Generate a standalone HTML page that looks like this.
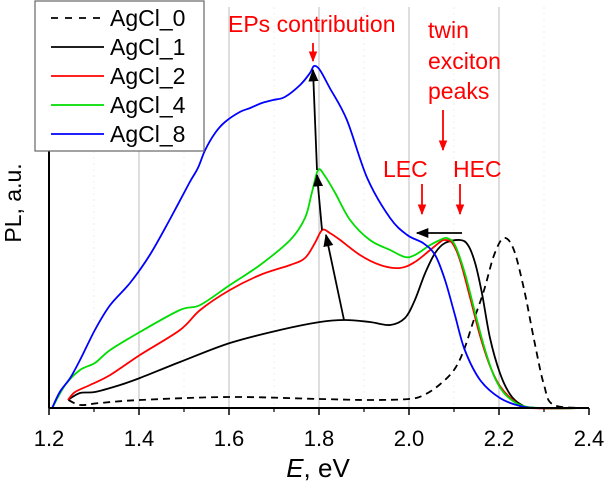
<!DOCTYPE html>
<html><head><meta charset="utf-8"><style>
html,body{margin:0;padding:0;background:#fff;}
svg{display:block;font-family:"Liberation Sans",Arial,sans-serif;}
</style></head><body>
<svg id="chart" width="610" height="496" viewBox="0 0 610 496">
<defs>
<marker id="ahK" viewBox="0 0 10 10" refX="9" refY="5" markerWidth="7" markerHeight="7" orient="auto"><path d="M0,1 L10,5 L0,9 z" fill="#000"/></marker>
<marker id="ahR" viewBox="0 0 10 10" refX="9" refY="5" markerWidth="6" markerHeight="8" orient="auto"><path d="M0,1 L10,5 L0,9 z" fill="#f00"/></marker>
</defs>
<g id="grid"></g>
<g id="series"></g>
<g id="axes"></g>
<g id="annot"></g>
</svg>
<script>
const xTicks=[1.2,1.4,1.6,1.8,2.0,2.2,2.4];
const xTickLabels=["1.2","1.4","1.6","1.8","2.0","2.2","2.4"];
const seriesNames=["AgCl_0","AgCl_1","AgCl_2","AgCl_4","AgCl_8"];
const agcl0E=[1.243,1.27,1.313,1.402,1.6,1.8,1.911,2.0,2.033,2.067,2.1,2.122,2.144,2.167,2.189,2.211,2.233,2.256,2.278,2.3,2.322,2.4];
const agcl0I=[8,3,5,8,11,9,8,9,13,23,38,58,88,118,153,170,158,118,68,23,3,0];
const agcl1E=[1.242,1.269,1.302,1.358,1.402,1.491,1.602,1.713,1.802,1.858,1.913,1.958,1.991,2.013,2.036,2.058,2.08,2.113,2.131,2.147,2.162,2.18,2.202,2.224,2.247,2.28,2.4];
const agcl1I=[8,15,16,23,30,46,65,78,86,88,86,83,90,108,135,155,165,168,163,145,115,70,35,14,4,0,0];
const agcl2E=[1.242,1.258,1.291,1.336,1.402,1.491,1.536,1.602,1.669,1.736,1.769,1.791,1.807,1.824,1.847,1.891,1.936,1.98,2.013,2.047,2.069,2.08,2.096,2.113,2.136,2.158,2.18,2.202,2.236,2.269,2.4];
const agcl2I=[8,16,23,33,53,78,98,118,133,143,150,165,178,175,168,153,143,140,146,158,166,168,165,148,110,72,42,22,6,0,0];
const agcl4E=[1.207,1.236,1.269,1.302,1.336,1.402,1.491,1.536,1.602,1.669,1.736,1.769,1.784,1.798,1.813,1.836,1.869,1.913,1.958,1.991,2.013,2.047,2.069,2.084,2.102,2.124,2.147,2.169,2.191,2.213,2.247,2.291,2.4];
const agcl4I=[0,23,38,45,58,76,98,103,123,143,168,190,215,238,232,215,188,168,158,151,153,163,168,170,163,135,95,58,30,14,3,0,0];
const agcl8E=[1.207,1.224,1.247,1.269,1.302,1.336,1.38,1.424,1.469,1.513,1.531,1.547,1.569,1.591,1.624,1.647,1.673,1.698,1.724,1.758,1.78,1.789,1.802,1.824,1.862,1.907,1.958,1.996,2.031,2.058,2.08,2.102,2.124,2.158,2.202,2.247,2.291,2.4];
const agcl8I=[0,16,30,48,78,103,125,153,189,226,240,258,275,286,296,300,305,308,311,323,335,342,338,320,288,230,190,173,165,153,128,93,58,28,10,2,0,0];
const colors=["#000","#000","#f00","#0d0","#00f"];
const allE=[agcl0E,agcl1E,agcl2E,agcl4E,agcl8E];
const allI=[agcl0I,agcl1I,agcl2I,agcl4I,agcl8I];
const NS="http://www.w3.org/2000/svg";
const X0=49,X1=589,Y0=408;
function xs(e){return X0+(e-1.2)/(1.2)*(X1-X0);}
function ys(v){return Y0-v;}
function mk(tag,attrs,parent){const el=document.createElementNS(NS,tag);for(const k in attrs)el.setAttribute(k,attrs[k]);parent.appendChild(el);return el;}
function smooth(pts){let d='M'+pts[0][0].toFixed(1)+','+pts[0][1].toFixed(1);
  for(let i=0;i<pts.length-1;i++){const p0=pts[Math.max(0,i-1)],p1=pts[i],p2=pts[i+1],p3=pts[Math.min(pts.length-1,i+2)];
    const c1=[p1[0]+(p2[0]-p0[0])/6,p1[1]+(p2[1]-p0[1])/6],c2=[p2[0]-(p3[0]-p1[0])/6,p2[1]-(p3[1]-p1[1])/6];
    d+=' C'+c1[0].toFixed(1)+','+c1[1].toFixed(1)+' '+c2[0].toFixed(1)+','+c2[1].toFixed(1)+' '+p2[0].toFixed(1)+','+p2[1].toFixed(1);}
  return d;}
const grid=document.getElementById('grid'),axes=document.getElementById('axes'),ser=document.getElementById('series'),ann=document.getElementById('annot');
xTicks.forEach((t,i)=>{
  const x=xs(t);
  if(i>0&&i<xTicks.length-1){const g=mk('line',{x1:x,y1:7,x2:x,y2:Y0,stroke:'#c8c8c8','stroke-width':1.2},grid);
  
  }
  const tk=mk('line',{x1:x,y1:Y0,x2:x,y2:Y0+7,stroke:'#000','stroke-width':1.5},axes);
  
  
  if(i<xTicks.length-1){const mx=xs(t+0.1);const m=mk('line',{x1:mx,y1:Y0,x2:mx,y2:Y0+4,stroke:'#000','stroke-width':1.2},axes);
  
  
  const dg=mk('line',{x1:mx,y1:7,x2:mx,y2:Y0,stroke:'#ececec','stroke-width':1,'stroke-dasharray':'2,4'},grid);
  
  }
  const lb=mk('text',{x:x,y:446,'text-anchor':'middle','font-size':22},axes);lb.textContent=xTickLabels[i];
  
  
});
const xa=mk('line',{x1:X0,y1:Y0,x2:X1,y2:Y0,stroke:'#000','stroke-width':2},axes);


const ya=mk('line',{x1:X0,y1:150,x2:X0,y2:Y0,stroke:'#000','stroke-width':2},axes);


const xt=mk('text',{x:318,y:477,'text-anchor':'middle','font-size':26},axes);
xt.innerHTML='<tspan font-style="italic">E</tspan>, eV';


const yt=mk('text',{x:0,y:0,'text-anchor':'middle','font-size':23,transform:'translate(21,203) rotate(-90)'},axes);
yt.textContent='PL, a.u.';


allE.forEach((E,s)=>{
  const pts=E.map((e,i)=>[xs(e),ys(allI[s][i])]);
  const p=mk('path',{d:smooth(pts),fill:'none',stroke:colors[s],'stroke-width':1.8,'stroke-linejoin':'round'},ser);
  if(s===0)p.setAttribute('stroke-dasharray','7,5');
  
  
});
const lg=mk('g',{},ann);


mk('rect',{x:35,y:1,width:169,height:150,fill:'#fff',stroke:'#666','stroke-width':1.2},lg);
seriesNames.forEach((n,i)=>{
  const y=18+i*29;
  const l=mk('line',{x1:51,y1:y,x2:104,y2:y,stroke:colors[i],'stroke-width':1.8},lg);
  if(i===0)l.setAttribute('stroke-dasharray','7,7');
  
  
  const t=mk('text',{x:110,y:y+8,'font-size':23},lg);t.textContent=n;
  
  
});
function txt(x,y,s,name){const t=mk('text',{x:x,y:y,'font-size':23,fill:'#f00'},ann);t.textContent=s;
  
  }
function arrow(x1,y1,x2,y2,col,mark,name){const a=mk('line',{x1:x1,y1:y1,x2:x2,y2:y2,stroke:col,'stroke-width':1.8,'marker-end':'url(#'+mark+')'},ann);
  
  }
txt(228,32,'EPs contribution','eps-contribution-label');
txt(428,38,'twin','twin-label');
txt(428,69,'exciton','exciton-label');
txt(428,99,'peaks','peaks-label');
txt(383,177,'LEC','lec-label');
txt(453,177,'HEC','hec-label');
arrow(313,43,313,61,'#f00','ahR','eps-arrow');
arrow(443,110,443,150,'#f00','ahR','twin-arrow');
arrow(422,184,422,214,'#f00','ahR','lec-arrow');
arrow(460,184,460,214,'#f00','ahR','hec-arrow');
arrow(462,233,417,233,'#000','ahK','shift-arrow');
arrow(344,320,326,235,'#000','ahK','growth-arrow-1');
arrow(322,230,317,175,'#000','ahK','growth-arrow-2');
arrow(317,170,313,70,'#000','ahK','growth-arrow-3');
</script>
</body></html>
